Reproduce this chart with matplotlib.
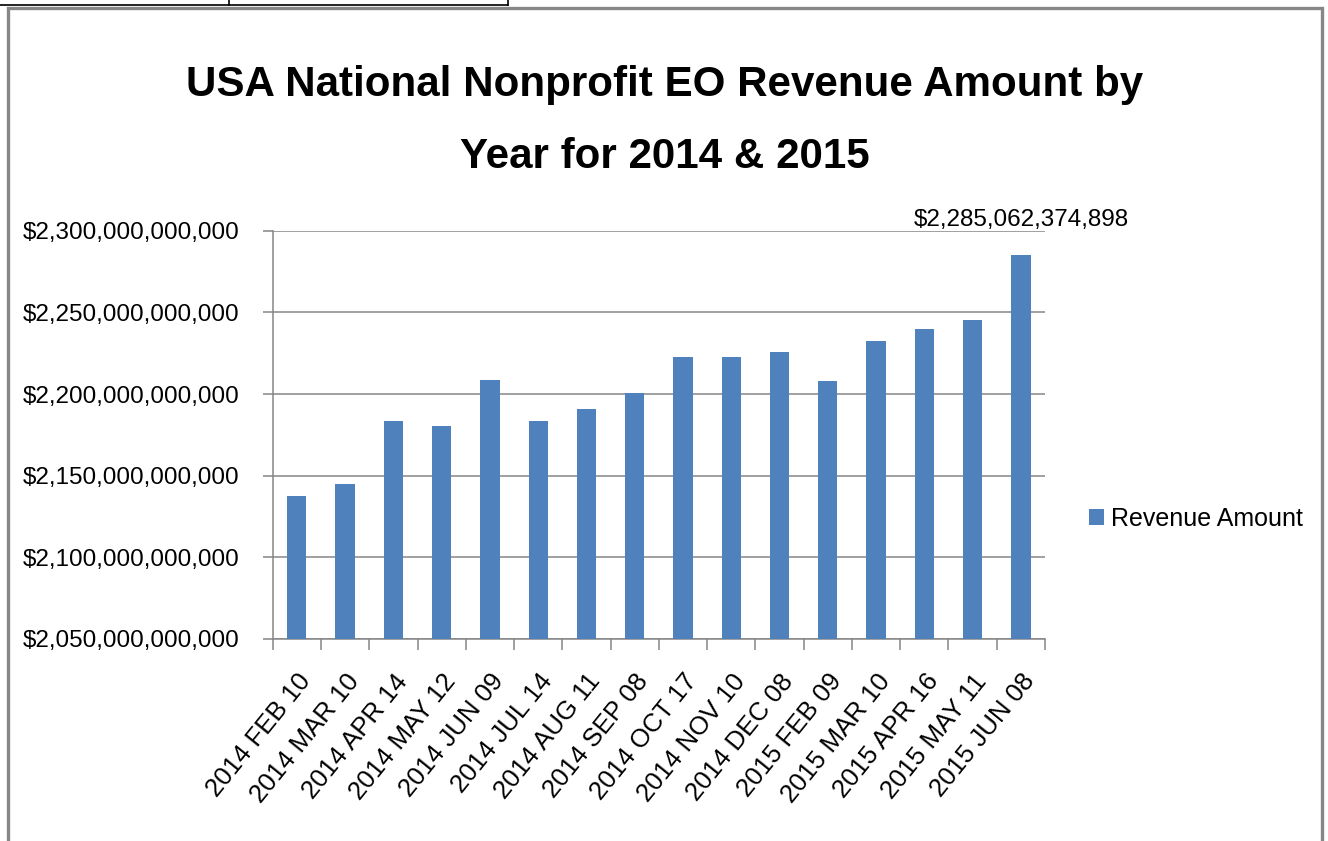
import matplotlib
matplotlib.use("Agg")
import matplotlib.pyplot as plt
from matplotlib.lines import Line2D
from matplotlib.patches import Rectangle
from matplotlib.ticker import FuncFormatter

# data
dates = ["2014 FEB 10", "2014 MAR 10", "2014 APR 14", "2014 MAY 12", "2014 JUN 09",
         "2014 JUL 14", "2014 AUG 11", "2014 SEP 08", "2014 OCT 17", "2014 NOV 10",
         "2014 DEC 08", "2015 FEB 09", "2015 MAR 10", "2015 APR 16", "2015 MAY 11",
         "2015 JUN 08"]
revenue = [2137.4e9, 2144.8e9, 2183.6e9, 2180.7e9, 2208.3e9,
           2183.6e9, 2190.9e9, 2200.6e9, 2222.4e9, 2222.4e9,
           2225.5e9, 2208.1e9, 2232.6e9, 2240.0e9, 2245.1e9,
           2285062374898]
series_name = "Revenue Amount"
title_lines = ["USA National Nonprofit EO Revenue Amount by", "Year for 2014 & 2015"]

W, H = 1328, 841
bar_color = "#4F81BD"
grid_color = "#868686"
txt = "Liberation Sans"

fig = plt.figure(figsize=(W / 100, H / 100), dpi=100)
ax = fig.add_axes([272.7 / W, 1 - 639 / H, (1045 - 272.7) / W, (639 - 230.7) / H])

x = list(range(len(dates)))
ax.bar(x, revenue, width=0.4, color=bar_color, label=series_name, zorder=3)

ax.set_ylim(2.05e12, 2.30e12)
ax.set_yticks([2.05e12 + i * 50e9 for i in range(6)])
ax.yaxis.set_major_formatter(FuncFormatter(lambda v, p: "${:,.0f}".format(v)))
ax.grid(axis="y", color=grid_color, linewidth=1.1, zorder=0)
ax.tick_params(axis="y", direction="out", length=7, width=1.1, color=grid_color,
               pad=17, labelsize=17.5)

ax.set_xlim(-0.5, len(dates) - 0.5)
ax.set_xticks(x)
ax.set_xticklabels(dates, rotation=51, ha="right", va="top", rotation_mode="anchor")
ax.set_xticks([i - 0.5 for i in range(len(dates) + 1)], minor=True)
ax.tick_params(axis="x", which="major", length=0, pad=22, labelsize=18.5)
ax.tick_params(axis="x", which="minor", direction="out", length=8, width=1.1, color=grid_color)

for lab in ax.get_xticklabels() + ax.get_yticklabels():
    lab.set_fontfamily(txt)

for s in ["top", "right"]:
    ax.spines[s].set_visible(False)
for s in ["left", "bottom"]:
    ax.spines[s].set_color(grid_color)
    ax.spines[s].set_linewidth(1.1)

# label on the last bar
ax.annotate("${:,}".format(revenue[-1]), (x[-1], revenue[-1]), xytext=(0, 25),
            textcoords="offset points", ha="center", va="center",
            fontsize=17.5, family=txt, annotation_clip=False)

# two-line bold title
for line, base in zip(title_lines, [96, 168]):
    fig.text(665 / W, 1 - base / H, line, ha="center", va="baseline", fontsize=30.3,
             fontweight="bold", family=txt)

fig.legend(loc="center left", bbox_to_anchor=(1066 / W, 1 - 519 / H), frameon=False,
           prop={"family": txt, "size": 18}, handlelength=0.6, handleheight=0.6,
           handletextpad=0.3)

# outer chart border and the bit of table above it
fig.patches.append(Rectangle((8 / W, -0.05), (1322 - 8) / W, 1.05 - 8 / H, transform=fig.transFigure,
                             fill=False, edgecolor="#878787", linewidth=2.4, clip_on=False))
fig.lines.append(Line2D([0, 508 / W], [1 - 5 / H, 1 - 5 / H], transform=fig.transFigure,
                        color="black", linewidth=1.2))
for xv in [229, 508]:
    fig.lines.append(Line2D([xv / W, xv / W], [1, 1 - 5 / H], transform=fig.transFigure,
                            color="black", linewidth=1.2))

fig.savefig("out.png", dpi=100)
